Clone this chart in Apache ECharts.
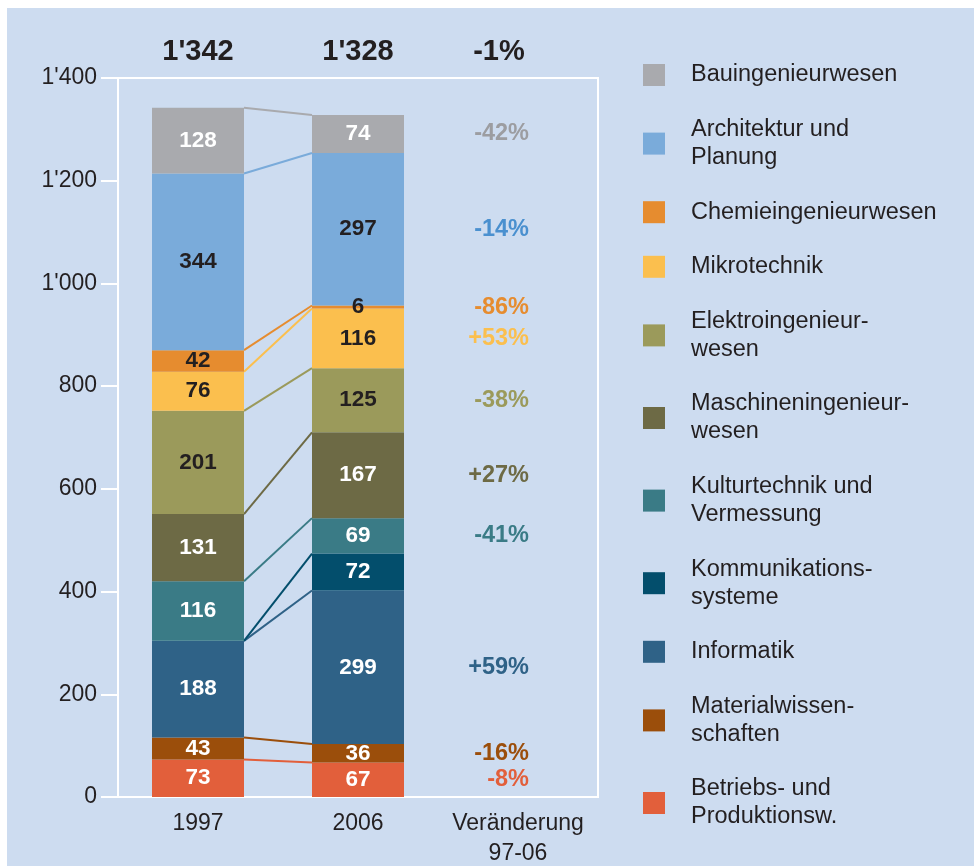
<!DOCTYPE html>
<html>
<head>
<meta charset="utf-8">
<script src="https://cdn.jsdelivr.net/npm/echarts@6/dist/echarts.min.js"></script>
<style>
  body { margin: 0; background: #fff; }
  #bg { position: absolute; left: 7px; top: 8px; width: 967px; height: 858px; background: #cddcf0; }
  #chart { position: absolute; left: 0; top: 0; width: 974px; height: 866px; }
</style>
</head>
<body>
<div id="bg"></div>
<div id="chart"></div>
<script>
// stack order: bottom first
const categories = ['1997', '2006', 'Veränderung\n97-06'];
const fields = [
    'Betriebs- und Produktionsw.', 'Materialwissenschaften', 'Informatik', 'Kommunikationssysteme',
    'Kulturtechnik und Vermessung', 'Maschineningenieurwesen', 'Elektroingenieurwesen', 'Mikrotechnik',
    'Chemieingenieurwesen', 'Architektur und Planung', 'Bauingenieurwesen'
];
const legendLabels = [
    'Betriebs- und\nProduktionsw.', 'Materialwissen-\nschaften', 'Informatik', 'Kommunikations-\nsysteme',
    'Kulturtechnik und\nVermessung', 'Maschineningenieur-\nwesen', 'Elektroingenieur-\nwesen', 'Mikrotechnik',
    'Chemieingenieurwesen', 'Architektur und\nPlanung', 'Bauingenieurwesen'
];
const values1997 = [73, 43, 188, 0, 116, 131, 201, 76, 42, 344, 128];
const values2006 = [67, 36, 299, 72, 69, 167, 125, 116, 6, 297, 74];
const change = ['-8%', '-16%', '+59%', '', '-41%', '+27%', '-38%', '+53%', '-86%', '-14%', '-42%'];
const totalChange = '-1%';
const yTicks = [0, 200, 400, 600, 800, 1000, 1200, 1400];

const colors = ['#e25f3b', '#9b4e0b', '#2f6287', '#034e6c', '#3a7b86', '#6d6a45',
    '#9b9a5b', '#fbbf4e', '#e68c2f', '#7aabda', '#a9aaae'];
const changeColors = ['#e25f3b', '#9b4e0b', '#2f6287', '#034e6c', '#3a7b86', '#6d6a45',
    '#9b9a5b', '#fbbf4e', '#e68c2f', '#4a90cf', '#9c9da1'];
const DARK = '#231f20';
const darkText = ['Elektroingenieurwesen', 'Mikrotechnik', 'Chemieingenieurwesen', 'Architektur und Planung'];

const FONT = '"Liberation Sans", Arial, sans-serif';
const fmt = v => String(v).replace(/\B(?=(\d{3})+(?!\d))/g, "'");
const sum = arr => arr.reduce((a, b) => a + b, 0);

// grid geometry
const gridLeft = 118, gridRight = 376, gridWidth = 974 - gridLeft - gridRight;
const barWidth = 92;
const half = barWidth / 2 / (gridWidth / categories.length);

const chart = echarts.init(document.getElementById('chart'));

const barSeries = fields.map((name, i) => ({
    name: name,
    type: 'bar',
    stack: 'total',
    barWidth: barWidth,
    itemStyle: { color: colors[i] },
    label: {
        show: true,
        position: 'inside',
        fontFamily: FONT,
        fontSize: 22.5,
        fontWeight: 'bold',
        color: darkText.includes(name) ? DARK : '#fff',
        formatter: p => p.dataIndex === 2 ? change[i] : (p.value ? String(p.value) : '')
    },
    data: [
        values1997[i],
        values2006[i],
        {
            value: values2006[i],
            itemStyle: { color: 'rgba(0,0,0,0)' },
            label: { align: 'right', offset: [11, 0], color: changeColors[i], fontSize: 23.5 }
        }
    ]
}));

// connectors from top of each 1997 segment to top of the same 2006 segment
let c1 = 0, c2 = 0;
const linkSeries = fields.map((name, i) => {
    c1 += values1997[i];
    c2 += values2006[i];
    return {
        name: 'link ' + name,
        type: 'line',
        xAxisIndex: 2,
        symbol: 'none',
        silent: true,
        z: 1,
        lineStyle: { color: colors[i], width: 2 },
        data: [[0.5 + half, c1], [1.5 - half, c2]]
    };
});

const option = {
    animation: false,
    textStyle: { fontFamily: FONT },
    grid: {
        left: gridLeft, right: gridRight, top: 78, bottom: 69,
        outerBoundsMode: 'none',
        show: true, borderColor: '#fff', borderWidth: 2
    },
    legend: {
        data: fields.slice().reverse(),
        orient: 'vertical',
        left: 643,
        top: 61,
        padding: 0,
        itemWidth: 22,
        itemHeight: 22,
        itemGap: 26.6,
        icon: 'rect',
        selectedMode: false,
        formatter: name => legendLabels[fields.indexOf(name)],
        textStyle: { fontFamily: FONT, fontSize: 23.5, lineHeight: 28, color: DARK, padding: [0, 0, 0, 21] }
    },
    xAxis: [
        {
            type: 'category',
            data: categories,
            axisLine: { lineStyle: { color: '#fff', width: 2 } },
            axisTick: { show: false },
            axisLabel: { interval: 0, fontFamily: FONT, fontSize: 23, lineHeight: 30, color: DARK, margin: 12 }
        },
        {
            type: 'category',
            position: 'top',
            data: [fmt(sum(values1997)), fmt(sum(values2006)), totalChange],
            axisLine: { show: false },
            axisTick: { show: false },
            axisLabel: {
                interval: 0,
                margin: 12,
                formatter: (v, idx) => idx === 2 ? '{p|' + v + '}' : '{t|' + v + '}',
                rich: {
                    t: { fontFamily: FONT, fontSize: 29, fontWeight: 'bold', color: DARK },
                    p: { fontFamily: FONT, fontSize: 29, fontWeight: 'bold', color: DARK, padding: [0, 38, 0, 0] }
                }
            }
        },
        { type: 'value', min: 0, max: categories.length, show: false }
    ],
    yAxis: {
        type: 'value',
        min: yTicks[0],
        max: yTicks[yTicks.length - 1],
        interval: yTicks[1] - yTicks[0],
        axisLine: { show: true, lineStyle: { color: '#fff', width: 2 } },
        axisTick: { show: true, length: 17, lineStyle: { color: '#fff', width: 2 } },
        splitLine: { show: false },
        axisLabel: { fontFamily: FONT, fontSize: 23, color: DARK, margin: 21, formatter: v => fmt(v) }
    },
    series: [...barSeries, ...linkSeries]
};

chart.setOption(option);
</script>
</body>
</html>
